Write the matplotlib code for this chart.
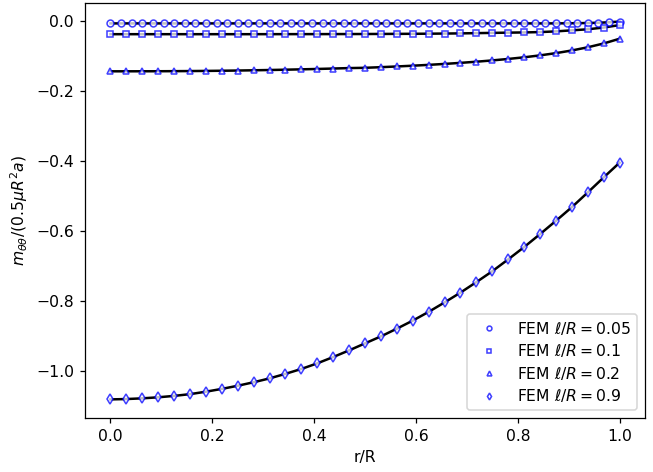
import numpy as np
import matplotlib
matplotlib.use('Agg')
import matplotlib.pyplot as plt

# ========== data ==========
# l/R = 0.05 : 49 nodes
r_005 = np.arange(49) / 48
m_005 = [-0.0072] * 42 + [-0.0071, -0.0069, -0.0066, -0.0061, -0.0053, -0.0040, -0.0020]

# l/R = 0.1, 0.2, 0.9 : 33 nodes
r_032 = np.arange(33) / 32
m_01 = [-0.0380, -0.0380, -0.0380, -0.0380, -0.0380, -0.0380, -0.0380, -0.0380,
        -0.0380, -0.0380, -0.0379, -0.0379, -0.0378, -0.0378, -0.0377, -0.0376,
        -0.0375, -0.0373, -0.0371, -0.0369, -0.0366, -0.0362, -0.0357, -0.0350,
        -0.0343, -0.0336, -0.0330, -0.0320, -0.0300, -0.0270, -0.0240, -0.0190,
        -0.0120]
m_02 = [-0.1440, -0.1440, -0.1439, -0.1438, -0.1436, -0.1433, -0.1429, -0.1424,
        -0.1418, -0.1411, -0.1403, -0.1394, -0.1384, -0.1373, -0.1361, -0.1348,
        -0.1340, -0.1322, -0.1302, -0.1280, -0.1256, -0.1229, -0.1199, -0.1166,
        -0.1129, -0.1087, -0.1040, -0.0985, -0.0921, -0.0845, -0.0754, -0.0645,
        -0.0510]
m_09 = [-1.081, -1.080, -1.078, -1.075, -1.071, -1.066, -1.059, -1.051,
        -1.042, -1.032, -1.021, -1.008, -0.994, -0.978, -0.960, -0.941,
        -0.921, -0.901, -0.879, -0.856, -0.831, -0.804, -0.776, -0.746,
        -0.715, -0.681, -0.646, -0.609, -0.571, -0.532, -0.490, -0.447,
        -0.405]

series = [
    (r_005, m_005, 'o', r'FEM $\ell/R = 0.05$'),
    (r_032, m_01, 's', r'FEM $\ell/R = 0.1$'),
    (r_032, m_02, '^', r'FEM $\ell/R = 0.2$'),
    (r_032, m_09, 'd', r'FEM $\ell/R = 0.9$'),
]

# ========== plot ==========
fig = plt.figure(figsize=(653 / 112.5, 472 / 112.5), dpi=112.5)
ax = fig.add_axes([0.1302, 0.1138, 0.8576, 0.8805])

for r, m, mk, lab in series:
    ax.plot(r, m, color='black', linewidth=1.6, zorder=2)
for r, m, mk, lab in series:
    ax.plot(r, m, linestyle='none', marker=mk, markersize=4.4,
            markeredgecolor='blue', markerfacecolor='white', markeredgewidth=1.0,
            alpha=0.75, label=lab, zorder=3)

ax.set_xlabel('r/R')
ax.set_ylabel(r'$m_{\theta\theta}/(0.5\mu R^2 a)$')
ax.set_xticks([0.0, 0.2, 0.4, 0.6, 0.8, 1.0])
ax.set_yticks([0.0, -0.2, -0.4, -0.6, -0.8, -1.0])
ax.legend(loc='lower right', markerscale=0.7, labelspacing=0.35)

fig.savefig('out.png', dpi=112.5)
